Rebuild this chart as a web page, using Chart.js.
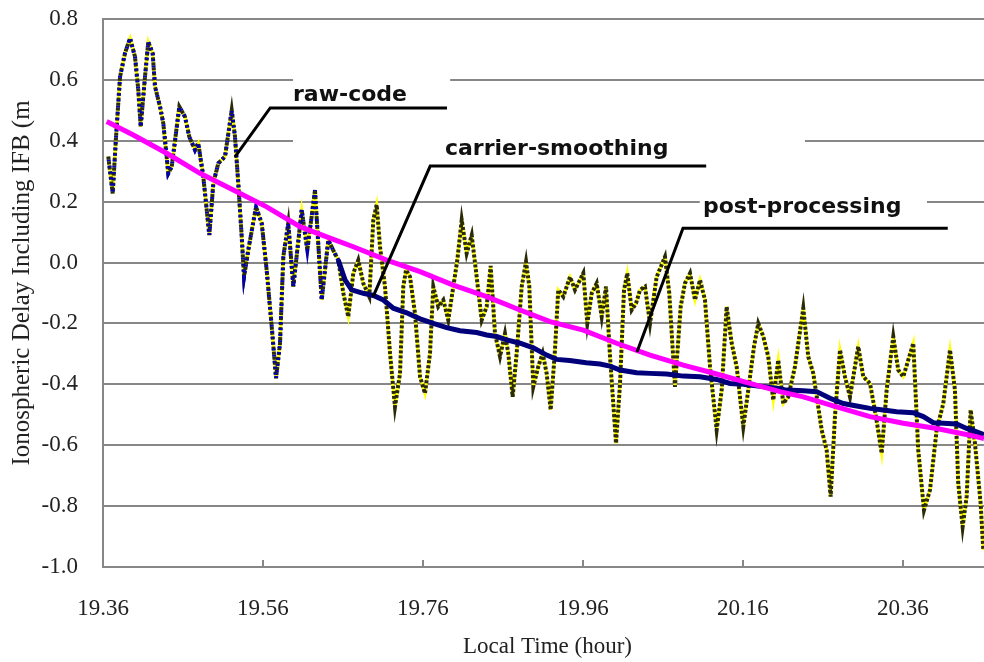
<!DOCTYPE html>
<html>
<head>
<meta charset="utf-8">
<script src="https://cdn.jsdelivr.net/npm/chart.js@4.4.1/dist/chart.umd.min.js"></script>
<style>
  html, body { margin: 0; padding: 0; background: #fff; }
</style>
</head>
<body>
<canvas id="iono" width="984" height="662"></canvas>
<script>
// raw code ionospheric delay (hour, metre) - turning points of the trace
const rawTime = [
  19.3666, 19.3721, 19.3763, 19.3813, 19.3875, 19.3938, 19.4000, 19.4041, 19.4071, 19.4125,
  19.4166, 19.4221, 19.4250, 19.4313, 19.4354, 19.4416, 19.4459, 19.4500, 19.4554, 19.4625,
  19.4679, 19.4750, 19.4791, 19.4854, 19.4929, 19.4979, 19.5041, 19.5125, 19.5209, 19.5250,
  19.5291, 19.5334, 19.5363, 19.5416, 19.5513, 19.5584, 19.5646, 19.5709, 19.5763, 19.5813,
  19.5854, 19.5916, 19.5979, 19.6084, 19.6154, 19.6250, 19.6334, 19.6416, 19.6479, 19.6541,
  19.6604, 19.6666, 19.6729, 19.6791, 19.6854, 19.6929, 19.6979, 19.7021, 19.7063, 19.7125,
  19.7188, 19.7250, 19.7313, 19.7354, 19.7388, 19.7438, 19.7500, 19.7563, 19.7625, 19.7688,
  19.7729, 19.7791, 19.7854, 19.7916, 19.7979, 19.8029, 19.8084, 19.8146, 19.8209, 19.8271,
  19.8334, 19.8396, 19.8446, 19.8500, 19.8563, 19.8625, 19.8666, 19.8721, 19.8771, 19.8834,
  19.8888, 19.8929, 19.8979, 19.9041, 19.9096, 19.9146, 19.9196,
  19.9250, 19.9291, 19.9354, 19.9438, 19.9500, 19.9563, 19.9604, 19.9654, 19.9709, 19.9771,
  19.9834, 19.9888, 19.9938, 20.0013, 20.0063, 20.0113, 20.0154, 20.0209, 20.0263, 20.0313,
  20.0375, 20.0438, 20.0521, 20.0625, 20.0679, 20.0750, 20.0821, 20.0875, 20.0938, 20.1000,
  20.1063, 20.1125, 20.1188, 20.1271, 20.1334, 20.1396, 20.1459, 20.1521, 20.1604, 20.1666,
  20.1738, 20.1791, 20.1854, 20.1916, 20.1979,
  20.2041, 20.2104, 20.2166, 20.2250, 20.2354, 20.2416, 20.2479, 20.2584, 20.2646, 20.2696,
  20.2750, 20.2813, 20.2875, 20.2938, 20.3041, 20.3104, 20.3188, 20.3263, 20.3334, 20.3396,
  20.3479, 20.3541, 20.3604, 20.3729, 20.3791, 20.3863, 20.3938, 20.4021, 20.4104, 20.4188,
  20.4250, 20.4291, 20.4346, 20.4396, 20.4446, 20.4500, 20.4571, 20.4604
];
const rawDelay = [
  0.348, 0.227, 0.413, 0.610, 0.688, 0.737, 0.676, 0.567, 0.446, 0.610,
  0.725, 0.687, 0.578, 0.512, 0.457, 0.293, 0.315, 0.400, 0.512, 0.479,
  0.413, 0.370, 0.392, 0.282, 0.090, 0.260, 0.326, 0.348, 0.500, 0.413,
  0.260, 0.085, -0.047, 0.041, 0.183, 0.129, -0.025, -0.210, -0.380, -0.265,
  0.019, 0.129, -0.079, 0.173, 0.041, 0.238, -0.123, 0.074, 0.040, 0.008,
  -0.100, -0.178, -0.035, 0.008, -0.068, -0.112, 0.140, 0.190, 0.052, -0.079,
  -0.298, -0.474, -0.364, -0.079, -0.024, -0.047, -0.167, -0.375, -0.430, -0.298,
  -0.079, -0.145, -0.123, -0.189, -0.079, 0.008, 0.140, 0.030, 0.090, -0.047,
  -0.189, -0.145, -0.011, -0.233, -0.309, -0.233, -0.298, -0.441, -0.298, -0.079,
  0.003, -0.079, -0.408, -0.342, -0.298, -0.364, -0.484,
  -0.287, -0.090, -0.112, -0.047, -0.090, -0.057, -0.035, -0.200, -0.101, -0.068,
  -0.178, -0.079, -0.309, -0.594, -0.397, -0.090, -0.035, -0.156, -0.134, -0.090,
  -0.079, -0.200, -0.047, 0.019, -0.101, -0.408, -0.145, -0.068, -0.035, -0.123,
  -0.057, -0.123, -0.342, -0.550, -0.419, -0.145, -0.265, -0.342, -0.539, -0.419,
  -0.276, -0.200, -0.243, -0.309, -0.452,
  -0.320, -0.463, -0.441, -0.342, -0.150, -0.309, -0.364, -0.550, -0.616, -0.769,
  -0.506, -0.287, -0.375, -0.441, -0.276, -0.375, -0.397, -0.506, -0.627, -0.419,
  -0.243, -0.353, -0.375, -0.265, -0.616, -0.813, -0.747, -0.550, -0.463, -0.287,
  -0.419, -0.725, -0.868, -0.769, -0.484, -0.594, -0.791, -0.944
];

// carrier smoothing follows the raw code until this time, then runs on its own
const smoothStart = 19.6541;
const smoothTime = [
  19.6541, 19.6625, 19.6709, 19.6854, 19.6979, 19.7104, 19.7229, 19.7396, 19.7563, 19.7729,
  19.7896, 19.8063, 19.8271, 19.8396, 19.8521, 19.8646, 19.8813, 19.8979, 19.9146, 19.9271,
  19.9434, 19.9641, 19.9813, 19.9938, 20.0063, 20.0271, 20.0438, 20.0646, 20.0854, 20.1063,
  20.1271, 20.1438, 20.1604, 20.1813, 20.2021, 20.2146, 20.2354, 20.2521, 20.2688, 20.2854,
  20.3021, 20.3188, 20.3354, 20.3521, 20.3729, 20.3854, 20.3979, 20.4104, 20.4271, 20.4396,
  20.4521, 20.4613
];
const smoothDelay = [
  0.008, -0.057, -0.090, -0.101, -0.108, -0.123, -0.150, -0.165, -0.185, -0.200,
  -0.214, -0.224, -0.230, -0.238, -0.243, -0.254, -0.265, -0.280, -0.304, -0.318,
  -0.322, -0.329, -0.333, -0.340, -0.353, -0.362, -0.364, -0.366, -0.373, -0.375,
  -0.384, -0.397, -0.400, -0.406, -0.413, -0.419, -0.421, -0.424, -0.446, -0.463,
  -0.471, -0.479, -0.484, -0.490, -0.493, -0.506, -0.526, -0.528, -0.530, -0.545,
  -0.556, -0.565
];

// post-processed estimate
const postTime = [
  19.3646, 19.3979, 19.4396, 19.4813, 19.5229, 19.5646, 19.6063, 19.6438, 19.6729, 19.7146,
  19.7563, 19.7979, 19.8396, 19.8813, 19.9188, 19.9604, 20.0021, 20.0438, 20.0854, 20.1271,
  20.1688, 20.2063, 20.2354, 20.2771, 20.3188, 20.3604, 20.4021, 20.4438, 20.4613
];
const postDelay = [
  0.463, 0.419, 0.359, 0.293, 0.238, 0.183, 0.118, 0.080, 0.052, 0.008,
  -0.030, -0.074, -0.112, -0.156, -0.194, -0.222, -0.265, -0.304, -0.337, -0.366,
  -0.397, -0.424, -0.441, -0.474, -0.506, -0.528, -0.545, -0.567, -0.578
];

const xTicks = [19.36, 19.56, 19.76, 19.96, 20.16, 20.36];
const yTicks = [-1.0, -0.8, -0.6, -0.4, -0.2, 0.0, 0.2, 0.4, 0.6, 0.8];
const xTitle = 'Local Time (hour)';
const yTitle = 'Ionospheric Delay Including IFB (m';

// callout labels, in data units: text origin, leader path, white box behind
const callouts = [
  { text: 'raw-code', at: [19.5975, 0.531],
    path: [[19.525, 0.347], [19.569, 0.508], [19.790, 0.508]],
    box: [19.5975, 19.794, 0.639, 0.370] },
  { text: 'carrier-smoothing', at: [19.7875, 0.353],
    path: [[19.6975, -0.113], [19.769, 0.317], [20.114, 0.317]],
    box: [19.756, 20.2375, 0.442, 0.288] },
  { text: 'post-processing', at: [20.110, 0.163],
    path: [[20.0275, -0.294], [20.085, 0.113], [20.416, 0.113]],
    box: [20.106, 20.390, 0.245, 0.133] }
];

const toPoints = (ts, vs) => ts.map((t, i) => ({ x: t, y: vs[i] }));
const rawPts = toPoints(rawTime, rawDelay);
const earlyPts = rawPts.filter(p => p.x <= smoothStart);
const smoothPts = toPoints(smoothTime, smoothDelay);
const postPts = toPoints(postTime, postDelay);

const AXIS_GRAY = '#878787';
const SERIF = '"Liberation Serif", "Times New Roman", serif';

const calloutPlugin = {
  id: 'callouts',
  beforeDatasetsDraw(chart) {
    const { ctx, chartArea, scales: { x, y } } = chart;
    ctx.save();
    // label boxes hide the gridlines behind them
    ctx.fillStyle = '#fff';
    callouts.forEach(c => {
      const [t0, t1, v0, v1] = c.box;
      const l = x.getPixelForValue(t0), r = x.getPixelForValue(t1);
      const t = y.getPixelForValue(v0), b = y.getPixelForValue(v1);
      ctx.fillRect(l, t, r - l, b - t);
    });
    // short inward tick marks on the time axis
    ctx.strokeStyle = AXIS_GRAY;
    ctx.lineWidth = 2;
    xTicks.slice(1).forEach(t => {
      const px = Math.round(x.getPixelForValue(t));
      ctx.beginPath();
      ctx.moveTo(px, chartArea.bottom);
      ctx.lineTo(px, chartArea.bottom - 7);
      ctx.stroke();
    });
    ctx.restore();
  },
  afterDatasetsDraw(chart) {
    const { ctx, scales: { x, y } } = chart;
    ctx.save();
    ctx.strokeStyle = '#000';
    ctx.lineWidth = 3;
    callouts.forEach(c => {
      ctx.beginPath();
      c.path.forEach(([t, v], i) => {
        const px = x.getPixelForValue(t), py = y.getPixelForValue(v);
        if (i === 0) ctx.moveTo(px, py); else ctx.lineTo(px, py);
      });
      ctx.stroke();
      ctx.fillStyle = '#111';
      ctx.font = 'bold 22px "DejaVu Sans", sans-serif';
      ctx.textAlign = 'left';
      ctx.textBaseline = 'alphabetic';
      ctx.fillText(c.text, x.getPixelForValue(c.at[0]), y.getPixelForValue(c.at[1]));
    });
    ctx.restore();
  },
  afterDraw(chart) {
    const { ctx, chartArea } = chart;
    ctx.save();
    ctx.fillStyle = '#222';
    ctx.textAlign = 'center';
    ctx.textBaseline = 'middle';
    ctx.font = '23px ' + SERIF;
    ctx.fillText(xTitle, (chartArea.left + chartArea.right) / 2 + 4, chartArea.bottom + 80);
    ctx.translate(22, 283);
    ctx.rotate(-Math.PI / 2);
    ctx.font = '25px ' + SERIF;
    ctx.fillText(yTitle, 0, 0);
    ctx.restore();
  }
};

new Chart(document.getElementById('iono'), {
  type: 'scatter',
  data: {
    datasets: [
      { label: 'post-processing', data: postPts, showLine: true,
        borderColor: '#ff00ff', borderWidth: 5, pointRadius: 0 },
      { label: 'carrier-smoothing', data: smoothPts, showLine: true,
        borderColor: '#00007a', borderWidth: 5, pointRadius: 0 },
      { label: 'carrier-smoothing (converging)', data: earlyPts, showLine: true,
        borderColor: '#0000b0', borderWidth: 4, borderDash: [2, 4], borderDashOffset: 3,
        pointRadius: 0 },
      { label: 'raw-code markers', data: rawPts, showLine: true,
        borderColor: '#2b2b08', borderWidth: 4, borderDash: [3, 2], pointRadius: 0 },
      { label: 'raw-code', data: rawPts, showLine: true,
        borderColor: '#ffff00', borderWidth: 3, pointRadius: 0 }
    ]
  },
  options: {
    responsive: false,
    animation: false,
    devicePixelRatio: 1,
    layout: { padding: { left: 0, top: 0, right: 0, bottom: 0 } },
    plugins: { legend: { display: false }, tooltip: { enabled: false } },
    scales: {
      x: {
        type: 'linear',
        min: 19.36,
        max: 20.4613,
        afterBuildTicks: s => { s.ticks = xTicks.map(v => ({ value: v })); },
        afterFit: s => { s.height = 95; },
        grid: { display: false },
        border: { color: AXIS_GRAY, width: 2 },
        ticks: {
          padding: 20,
          color: '#222',
          font: { family: SERIF, size: 23 },
          callback: v => v.toFixed(2)
        }
      },
      y: {
        min: -1.0,
        max: 0.8,
        afterBuildTicks: s => { s.ticks = yTicks.map(v => ({ value: v })); },
        afterFit: s => { s.width = 103; s.paddingTop = 19; s.paddingBottom = 0; },
        grid: { color: AXIS_GRAY, lineWidth: 2, drawTicks: false },
        border: { color: AXIS_GRAY, width: 2 },
        ticks: {
          padding: 25,
          color: '#222',
          font: { family: SERIF, size: 23 },
          callback: v => v.toFixed(1)
        }
      }
    }
  },
  plugins: [calloutPlugin]
});
</script>
</body>
</html>
